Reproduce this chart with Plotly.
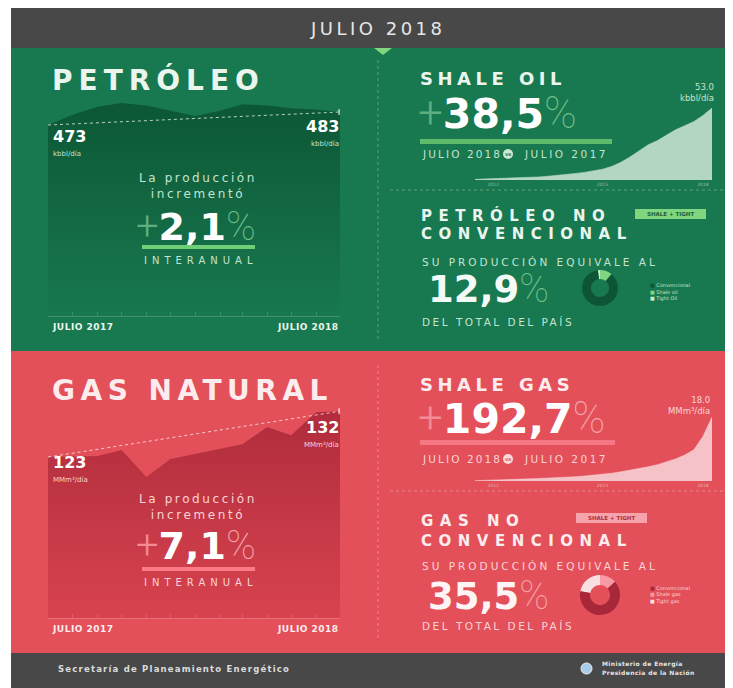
import plotly.graph_objects as go

# ---- data ----
months = ["2017-07", "2017-08", "2017-09", "2017-10", "2017-11", "2017-12", "2018-01",
          "2018-02", "2018-03", "2018-04", "2018-05", "2018-06", "2018-07"]
petroleo = [473, 481, 487, 490, 488, 484, 480, 484, 489, 488, 486, 485, 483]   # kbbl/dia
gas = [123, 123.1, 123.2, 124.4, 119.1, 122.6, 123.6, 124.6, 125.5, 128.9, 127.3, 131.8, 132]  # MMm3/dia

quarters = ["2012-01", "2012-04", "2012-07", "2012-10", "2013-01", "2013-04", "2013-07", "2013-10",
            "2014-01", "2014-04", "2014-07", "2014-10", "2015-01", "2015-04", "2015-07", "2015-10",
            "2016-01", "2016-04", "2016-07", "2016-10", "2017-01", "2017-04", "2017-07", "2017-10",
            "2018-01", "2018-04", "2018-07"]
shale_oil = [0.5, 0.7, 0.9, 1.1, 1.3, 1.6, 1.9, 2.3, 2.8, 3.3, 4.0, 4.8, 5.6, 6.6, 8.0, 10.0,
             13.0, 17.0, 21.5, 26.0, 29.0, 33.0, 37.0, 40.0, 43.0, 47.5, 53.0]
shale_gas = [0.1, 0.15, 0.2, 0.3, 0.4, 0.5, 0.6, 0.7, 0.8, 0.9, 1.0, 1.2, 1.4, 1.6, 1.9, 2.2,
             2.6, 3.0, 3.5, 4.0, 4.6, 5.3, 6.2, 7.3, 8.8, 12.5, 18.0]
year_ticks = ["2012-07", "2015-07", "2018-04"]
year_labels = ["2012", "2015", "2018"]

oil_mix_labels = ["Shale oil", "Tight Oil", "Convencional"]
oil_mix = [11.0, 1.9, 87.1]
gas_mix_labels = ["Shale gas", "Tight gas", "Convencional"]
gas_mix = [13.6, 21.9, 64.5]

W, H = 733, 688
OFF = 8  # page body margin
def px(x): return (x - OFF) / W
def py(y): return 1 - (y - OFF) / H

DARK = "#484848"
GREEN = "#18784f"
RED = "#e3505a"
LGREEN = "#7fd67f"
TXT_G = "#eaf5ee"
TXT_R = "#fdeced"
SUB_G = "#c5e4d0"
SUB_R = "#fbd3d6"
BOLD = "DejaVu Sans"
THIN = "Roboto"

fig = go.Figure()

# area charts (left)
fig.add_trace(go.Scatter(x=months, y=petroleo, mode="lines", line=dict(width=0), fill="tozeroy",
                         fillgradient=dict(type="vertical", start=326, stop=492,
                                           colorscale=[[0, "#18784f"], [1, "#0c5735"]]),
                         xaxis="x", yaxis="y", hoverinfo="skip"))
fig.add_trace(go.Scatter(x=[months[0], months[-1]], y=[petroleo[0], petroleo[-1]], mode="lines+markers",
                         line=dict(color="rgba(255,255,255,0.7)", width=1, dash="dot"),
                         marker=dict(size=[0, 5], symbol="triangle-right", color="rgba(255,255,255,0.8)"),
                         xaxis="x", yaxis="y", hoverinfo="skip"))
fig.add_trace(go.Scatter(x=months, y=gas, mode="lines", line=dict(width=0), fill="tozeroy",
                         fillgradient=dict(type="vertical", start=91, stop=132,
                                           colorscale=[[0, "#d8434f"], [1, "#b02c3c"]]),
                         xaxis="x2", yaxis="y2", hoverinfo="skip"))
fig.add_trace(go.Scatter(x=[months[0], months[-1]], y=[gas[0], gas[-1]], mode="lines+markers",
                         line=dict(color="rgba(255,255,255,0.7)", width=1, dash="dot"),
                         marker=dict(size=[0, 5], symbol="triangle-right", color="rgba(255,255,255,0.8)"),
                         xaxis="x2", yaxis="y2", hoverinfo="skip"))

# shale charts (right)
fig.add_trace(go.Scatter(x=quarters, y=shale_oil, mode="lines", line=dict(width=0.5, color="#c4e2d2"),
                         fill="tozeroy", fillcolor="#b2d6c2", xaxis="x3", yaxis="y3", hoverinfo="skip"))
fig.add_trace(go.Scatter(x=quarters, y=shale_gas, mode="lines", line=dict(width=0.5, color="#fad3d6"),
                         fill="tozeroy", fillcolor="#f5c3c7", xaxis="x4", yaxis="y4", hoverinfo="skip"))

# donuts
fig.add_trace(go.Pie(labels=oil_mix_labels, values=oil_mix, hole=0.5, sort=False,
                     direction="counterclockwise", textinfo="none", hoverinfo="skip",
                     marker=dict(colors=["#7fd67f", "#c9eec9", "#0d5536"]),
                     domain=dict(x=[px(582), px(618)], y=[py(306), py(270)])))
fig.add_trace(go.Pie(labels=gas_mix_labels, values=gas_mix, hole=0.5, sort=False,
                     direction="counterclockwise", textinfo="none", hoverinfo="skip",
                     marker=dict(colors=["#f79aa3", "#f8dfe1", "#a8283a"]),
                     domain=dict(x=[px(580), px(620)], y=[py(615), py(575)])))

shapes = []
def rect(x0, y0, x1, y1, color):
    shapes.append(dict(type="rect", xref="paper", yref="paper", x0=px(x0), x1=px(x1),
                       y0=py(y1), y1=py(y0), fillcolor=color, line=dict(width=0), layer="below"))
def hline(x0, x1, y, color, dash="dot", width=1):
    shapes.append(dict(type="line", xref="paper", yref="paper", x0=px(x0), x1=px(x1), y0=py(y), y1=py(y),
                       line=dict(color=color, width=width, dash=dash)))
def vline(x, y0, y1, color, dash="dot", width=1):
    shapes.append(dict(type="line", xref="paper", yref="paper", x0=px(x), x1=px(x), y0=py(y0), y1=py(y1),
                       line=dict(color=color, width=width, dash=dash)))
def box(x0, y0, x1, y1, color):
    shapes.append(dict(type="rect", xref="paper", yref="paper", x0=px(x0), x1=px(x1),
                       y0=py(y1), y1=py(y0), fillcolor=color, line=dict(width=0)))

rect(11, 8, 745, 48, DARK)
rect(11, 48, 745, 351, GREEN)
rect(11, 351, 745, 653, RED)
rect(11, 653, 745, 700, DARK)
shapes.append(dict(type="path", xref="paper", yref="paper",
                   path=f"M {px(374)} {py(48)} L {px(392)} {py(48)} L {px(383)} {py(55)} Z",
                   fillcolor=LGREEN, line=dict(width=0)))
# separators
vline(378, 60, 340, "rgba(255,255,255,0.3)")
vline(378, 365, 640, "rgba(255,255,255,0.3)")
hline(390, 733, 190, "rgba(255,255,255,0.3)")
hline(390, 733, 491, "rgba(255,255,255,0.3)")
# accent bars
box(142, 245, 255, 249, "#6fcf77")
box(142, 567, 255, 571, "#ff7a86")
box(420, 139, 612, 144, "#5dbb6b")
box(420, 440, 615, 445, "#f57884")
# badges
box(635, 209, 706, 219, LGREEN)
box(576, 513, 647, 523, "#f7a3ac")
# vs circles
for yy, col in [(154, "#cde9d6"), (459, "#fcd9dc")]:
    shapes.append(dict(type="circle", xref="paper", yref="paper", x0=px(503), x1=px(513),
                       y0=py(yy + 5), y1=py(yy - 5), fillcolor=col, line=dict(width=0)))
# footer emblem
shapes.append(dict(type="circle", xref="paper", yref="paper", x0=px(581), x1=px(592), y0=py(674), y1=py(663),
                   fillcolor="#a9cbe6", line=dict(color="#f0f0f0", width=1)))

anns = []
def ann(x, y, text, size, color, xa="left", ya="middle", family=BOLD):
    anns.append(dict(x=px(x), y=py(y), xref="paper", yref="paper", text=text, showarrow=False,
                     xanchor=xa, yanchor=ya, align=xa,
                     font=dict(size=size, color=color, family=family)))

def value_label(x, y, num, unit, xa, unit_col):
    # number sits on top of the line y, unit right under it
    ann(x, y, f"<b>{num}</b>", 16, "#ffffff", xa=xa, ya="bottom")
    ann(x, y, unit, 7, unit_col, xa=xa, ya="top")

def sp(text, s):
    return f'<span style="letter-spacing:{s}px">{text}</span>'

def big(num, plus_col, pct_col, thin_size, plus=True):
    p = (f'<span style="font-family:{THIN};font-weight:300;font-size:{thin_size}px;color:{plus_col}">+</span>'
         if plus else "")
    return (p + f'<b>{num}</b>'
            f'<span style="font-family:{THIN};font-weight:100;font-size:{thin_size}px;color:{pct_col}">%</span>')

ann(378, 28, sp("JULIO 2018", 3.5), 18, "#e6e6e6", xa="center")

# ---- green section ----
ann(50, 80, sp("<b>PETRÓLEO</b>", 6), 28, TXT_G)
value_label(51, 148, petroleo[0], "kbbl/día", "left", SUB_G)
value_label(341, 138, petroleo[-1], "kbbl/día", "right", SUB_G)
ann(198, 186, sp("La producción<br>incrementó", 2.6), 12, SUB_G, xa="center")
ann(196, 226, big("2,1", "#5fae7f", "#6fbf8a", 40), 38, "#ffffff", xa="center")
ann(200, 260, sp("INTERANUAL", 5), 10, SUB_G, xa="center")
ann(50, 327, sp("<b>JULIO 2017</b>", 0.5), 9, TXT_G)
ann(341, 327, sp("<b>JULIO 2018</b>", 0.5), 9, TXT_G, xa="right")

ann(418, 79, sp("<b>SHALE OIL</b>", 4.5), 18, TXT_G)
ann(416, 113, big("38,5", "#5fae7f", "#6fbf8a", 44), 41, "#ffffff")
ann(420, 154, sp("JULIO 2018", 2.1), 10.5, SUB_G)
ann(508, 154, "<b>vs</b>", 5, GREEN, xa="center")
ann(610, 154, sp("JULIO 2017", 2.5), 10.5, SUB_G, xa="right")
ann(716, 92, f"{shale_oil[-1]:.1f}<br>kbbl/día", 8.5, SUB_G, xa="right")

ann(419, 215, sp("<b>PETRÓLEO NO</b>", 6.5), 15, TXT_G)
ann(419, 234.5, sp("<b>CONVENCIONAL</b>", 6.5), 15, TXT_G)
ann(670, 214, "<b>SHALE + TIGHT</b>", 5.5, "#17603d", xa="center")
ann(420, 262, sp("SU PRODUCCIÓN EQUIVALE AL", 3), 10.5, SUB_G)
ann(426, 288, big("12,9", "#5fae7f", "#6fbf8a", 40, plus=False), 37, "#f4faf6")
ann(420, 322, sp("DEL TOTAL DEL PAÍS", 2.5), 10.5, SUB_G)
for i, (lab, col) in enumerate(zip(["Convencional", "Shale oil", "Tight Oil"], ["#0d5536", "#7fd67f", "#c9eec9"])):
    ann(648, 285 + i * 6.5, f'<span style="color:{col}">■</span> {lab}', 5, SUB_G)

# ---- red section ----
ann(50, 390, sp("<b>GAS NATURAL</b>", 5.5), 28, TXT_R)
value_label(51, 474, gas[0], "MMm³/día", "left", SUB_R)
value_label(341, 439, gas[-1], "MMm³/día", "right", SUB_R)
ann(198, 507, sp("La producción<br>incrementó", 2.6), 12, SUB_R, xa="center")
ann(196, 545, big("7,1", "#f28b94", "#f7a3ab", 40), 38, "#ffffff", xa="center")
ann(200, 582, sp("INTERANUAL", 5), 10, SUB_R, xa="center")
ann(50, 629, sp("<b>JULIO 2017</b>", 0.5), 9, TXT_R)
ann(341, 629, sp("<b>JULIO 2018</b>", 0.5), 9, TXT_R, xa="right")

ann(418, 384, sp("<b>SHALE GAS</b>", 4.5), 18, TXT_R)
ann(416, 418, big("192,7", "#f28b94", "#f7a3ab", 44), 41, "#ffffff")
ann(420, 459, sp("JULIO 2018", 2.1), 10.5, SUB_R)
ann(508, 459, "<b>vs</b>", 5, RED, xa="center")
ann(610, 459, sp("JULIO 2017", 2.5), 10.5, SUB_R, xa="right")
ann(712, 405, f"{shale_gas[-1]:.1f}<br>MMm³/día", 8.5, SUB_R, xa="right")

ann(419, 521, sp("<b>GAS NO</b>", 6.5), 15, TXT_R)
ann(419, 540.5, sp("<b>CONVENCIONAL</b>", 6.5), 15, TXT_R)
ann(611, 518, "<b>SHALE + TIGHT</b>", 5.5, "#b02c3c", xa="center")
ann(420, 566, sp("SU PRODUCCIÓN EQUIVALE AL", 3), 10.5, SUB_R)
ann(426, 595, big("35,5", "#f28b94", "#f7a3ab", 40, plus=False), 37, "#fff4f5")
ann(420, 626, sp("DEL TOTAL DEL PAÍS", 2.5), 10.5, SUB_R)
for i, (lab, col) in enumerate(zip(["Convencional", "Shale gas", "Tight gas"], ["#a8283a", "#f79aa3", "#f8dfe1"])):
    ann(648, 588 + i * 6.5, f'<span style="color:{col}">■</span> {lab}', 5, SUB_R)

# ---- footer ----
ann(56, 669, sp("<b>Secretaría de Planeamiento Energético</b>", 1.2), 8.5, "#dcdcdc")
ann(600, 664, sp("<b>Ministerio de Energía</b>", 0.4), 6, "#e6e6e6")
ann(600, 672, sp("<b>Presidencia de la Nación</b>", 0.4), 6, "#e6e6e6")

hidden = dict(visible=False)
xline = dict(showgrid=False, zeroline=False, showticklabels=False, showline=True,
             linecolor="rgba(255,255,255,0.18)", ticks="inside", ticklen=4,
             tickcolor="rgba(255,255,255,0.15)", dtick="M1")
small_x = dict(showgrid=False, zeroline=False, showline=False, tickvals=year_ticks, ticktext=year_labels,
               ticks="", tickfont=dict(size=4.5, color="rgba(255,255,255,0.55)", family=BOLD))

fig.update_layout(
    width=W, height=H, margin=dict(l=0, r=0, t=0, b=0),
    paper_bgcolor="white", plot_bgcolor="rgba(0,0,0,0)", showlegend=False,
    shapes=shapes, annotations=anns,
    xaxis=dict(domain=[px(48), px(340)], range=[months[0], months[-1]], anchor="y", **xline),
    yaxis=dict(domain=[py(316), py(95)], range=[326.1, 496.1], **hidden),
    xaxis2=dict(domain=[px(48), px(340)], range=[months[0], months[-1]], anchor="y2", **xline),
    yaxis2=dict(domain=[py(618), py(400)], range=[91.4, 134.2], **hidden),
    xaxis3=dict(domain=[px(475), px(712)], range=[quarters[0], quarters[-1]], anchor="y3", **small_x),
    yaxis3=dict(domain=[py(180), py(108)], range=[0, 53], **hidden),
    xaxis4=dict(domain=[px(475), px(712)], range=[quarters[0], quarters[-1]], anchor="y4", **small_x),
    yaxis4=dict(domain=[py(481), py(417)], range=[0, 18], **hidden),
)

fig.write_html("out.html")
